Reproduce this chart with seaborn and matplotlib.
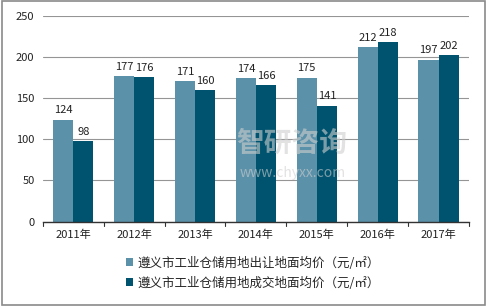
import matplotlib
matplotlib.use("Agg")
import matplotlib.pyplot as plt
import seaborn as sns
import pandas as pd
from matplotlib.patches import Rectangle

years = ["2011年", "2012年", "2013年", "2014年", "2015年", "2016年", "2017年"]
series_names = ["遵义市工业仓储用地出让地面均价（元/㎡）", "遵义市工业仓储用地成交地面均价（元/㎡）"]
transfer_price = [124, 177, 171, 174, 175, 212, 197]
deal_price = [98, 176, 160, 166, 141, 218, 202]
colors = ["#5b91a9", "#00536e"]

sns.set_theme(style="white")
plt.rcParams['font.family'] = ['Noto Sans CJK SC', 'DejaVu Sans']

df = pd.DataFrame({
    "year": years * 2,
    "value": transfer_price + deal_price,
    "series": [series_names[0]] * len(years) + [series_names[1]] * len(years),
})

fig = plt.figure(figsize=(4.87, 3.06), dpi=100)
ax = fig.add_axes([0.088, 0.276, 0.875, 0.672])
sns.barplot(data=df, x="year", y="value", hue="series", palette=colors,
            width=0.66, saturation=1, ax=ax, legend=True, linewidth=0, edgecolor="none")

ax.set_ylim(0, 250)
ax.set_yticks([0, 50, 100, 150, 200, 250])
ax.yaxis.grid(True, color="#959595", linewidth=0.8)
ax.set_axisbelow(True)
ax.set_xlabel("")
ax.set_ylabel("")
ax.tick_params(axis="both", labelsize=8, colors="#222222", length=0, pad=6)
for s in ["left", "right", "top"]:
    ax.spines[s].set_visible(False)
ax.spines["bottom"].set_color("#333333")
ax.spines["bottom"].set_linewidth(1.0)
ax.set_xlim(-0.5, len(years) - 0.5)

# tick marks between categories
for i in range(len(years) + 1):
    ax.plot([i - 0.5, i - 0.5], [0, -6], color="#333333", lw=0.8, clip_on=False)

for cont in ax.containers:
    ax.bar_label(cont, fmt="%d", fontsize=8, padding=3, color="#222222")

leg = ax.get_legend()
handles = leg.legend_handles
leg.remove()
fig.legend(handles, series_names, loc="upper left", bbox_to_anchor=(0.248, 0.178),
           frameon=False, fontsize=9, handlelength=0.6, handleheight=0.6,
           handletextpad=0.3, labelspacing=0.55, borderaxespad=0)

# watermark
fig.text(0.6, 0.53, "智研咨询", fontsize=20, color="#cfcfcf", alpha=0.6,
         ha="center", va="center", fontweight="bold")
fig.text(0.6, 0.435, "www.chyxx.com", fontsize=10, color="#cfcfcf", alpha=0.6,
         ha="center", va="center")

fig.patches.append(Rectangle((0.004, 0.004), 0.992, 0.992, transform=fig.transFigure,
                             fill=False, edgecolor="#8a8a8a", linewidth=1.2))

fig.savefig("out.png", dpi=100)
